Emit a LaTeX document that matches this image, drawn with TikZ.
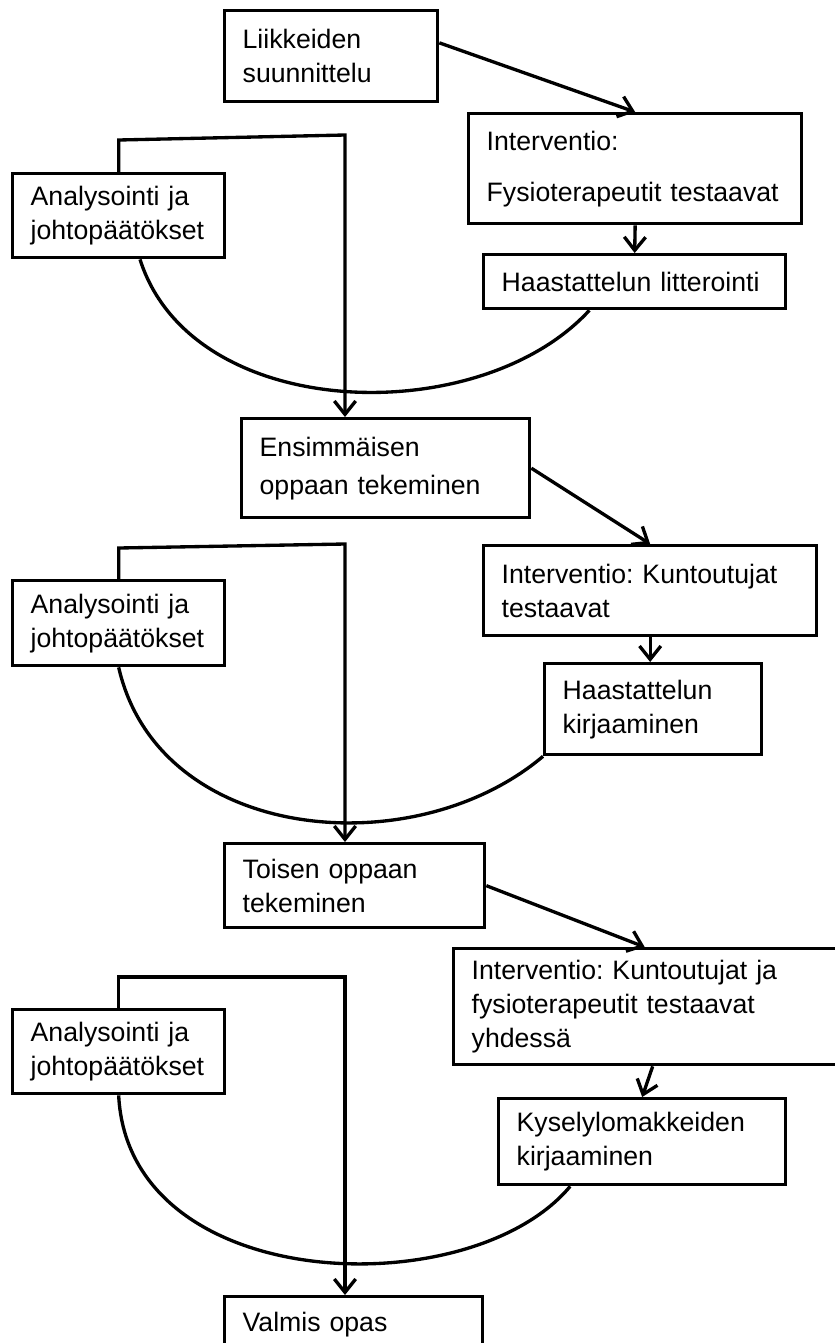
\documentclass[tikz,border=0pt]{standalone}
\usepackage{fontspec}
\setmainfont{Liberation Sans}
\usepackage{tikz}
\usetikzlibrary{positioning,arrows.meta}

\tikzset{
	box/.style={draw, line width=2.5pt, anchor=north west, align=left, inner xsep=13.5pt, inner ysep=0pt,
		font=\fontsize{20}{25.5}\selectfont\frenchspacing},
	flow/.style={line width=2.5pt, -{Straight Barb[length=10pt,width=16pt]}},
	loopback/.style={line width=2.5pt}
}

\begin{document}
\begin{tikzpicture}[x=0.75pt, y=-0.75pt]
	\useasboundingbox (0,0) rectangle (835,1343);

	% first round
	\node[box, text width=132.75pt, minimum height=68.25pt] (lii) at (223,9) {Liikkeiden\\suunnittelu};
	\node[box, text width=222.75pt, minimum height=82.5pt] (int1) at (467,112) {Interventio:\\[12.75pt]Fysioterapeutit testaavat};
	\node[box, text width=199.5pt, minimum height=40.5pt] (lit) at (482,253) {Haastattelun litterointi};
	\node[box, text width=132pt, minimum height=63pt] (ana1) at (11,172) {Analysointi ja\\johtopäätökset};
	\node[box, text width=189pt, minimum height=74.25pt] (ens) at (240,417) {Ensimmäisen\\[3pt]oppaan tekeminen};

	% second round
	\node[box, text width=222.75pt, minimum height=67.5pt] (int2) at (482,544) {Interventio: Kuntoutujat\\testaavat};
	\node[box, text width=135.75pt, minimum height=68.25pt] (kir) at (543,662) {Haastattelun\\kirjaaminen};
	\node[box, text width=132pt, minimum height=63.75pt] (ana2) at (11,579) {Analysointi ja\\johtopäätökset};
	\node[box, text width=168pt, minimum height=63pt] (toi) at (223,842) {Toisen oppaan\\tekeminen};

	% third round
	\node[box, text width=271.5pt, minimum height=87pt] (int3) at (452,947) {Interventio: Kuntoutujat ja\\fysioterapeutit testaavat\\yhdessä};
	\node[box, text width=188.25pt, minimum height=64.5pt] (kys) at (497,1097) {Kyselylomakkeiden\\kirjaaminen};
	\node[box, text width=132pt, minimum height=63pt] (ana3) at (11,1008) {Analysointi ja\\johtopäätökset};
	\node[box, text width=166.5pt, minimum height=42pt] (val) at (223,1295) {Valmis opas};

	\coordinate (fb1) at (345,135);
	\coordinate (fb2) at (345,544);
	\coordinate (fb3) at (345,977);

	% arrows
	\draw[flow] ([yshift=10pt]lii.east) -- (int1.north);
	\draw[flow] (int1.south) -- (lit.north);
	\draw[flow] (ens.east) -- (int2.north);
	\draw[flow] (int2.south) -- (int2.south |- kir.north);
	\draw[flow] (toi.east) -- ([xshift=-6pt]int3.north);
	\draw[flow] (int3.south) -- (kys.north);

	% back to the guide
	\draw[flow] (ana1.north) -- ++(0,-32) -- (fb1) -- (fb1 |- ens.north);
	\draw[flow] (ana2.north) -- ++(0,-31) -- (fb2) -- (fb2 |- toi.north);
	\draw[flow] (ana3.north) |- (fb3) -- (fb3 |- val.north);

	\draw[loopback] ([xshift=16pt]ana1.south) .. controls +(52,164) and +(-110,120) .. ([xshift=-34pt]lit.south);
	\draw[loopback] (ana2.south) .. controls +(40,175) and +(-130,110) .. (kir.south west);
	\draw[loopback] (ana3.south) .. controls +(10,200) and +(-100,120) .. ([xshift=-54pt]kys.south);
\end{tikzpicture}
\end{document}
